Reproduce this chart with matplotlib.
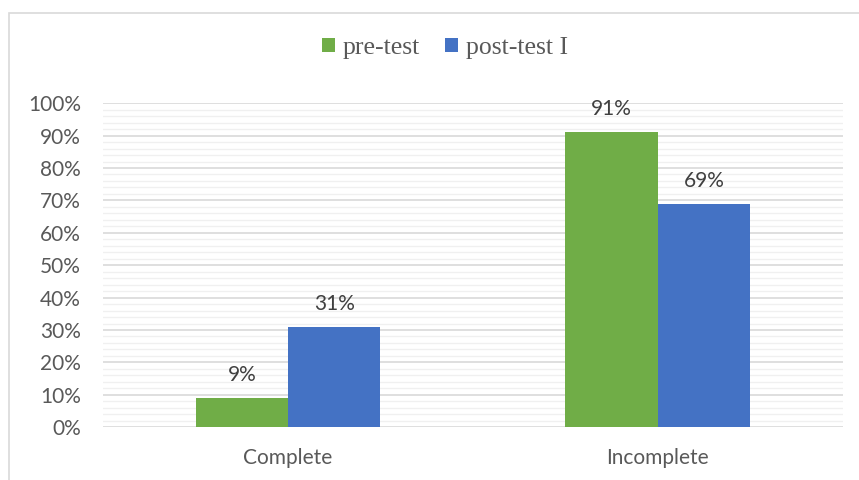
import numpy as np
import matplotlib.pyplot as plt
from matplotlib.patches import Rectangle
from matplotlib.ticker import MultipleLocator, PercentFormatter

categories = ['Complete', 'Incomplete']
series_names = ['pre-test', 'post-test I']
pre_test = [9, 91]
post_test = [31, 69]
colors = ['#70ad47', '#4472c4']

fig = plt.figure(figsize=(8.59, 4.8), dpi=100)
ax = fig.add_axes([0.12, 0.110, 0.861, 0.675])

# outer chart border
fig.patches.append(Rectangle((9 / 859, -0.05), 1.0, 1 - 13 / 480 + 0.05,
                             transform=fig.transFigure, fill=False,
                             edgecolor='#d9d9d9', linewidth=1.2, zorder=0))

x = np.arange(len(categories))
w = 0.25
bars1 = ax.bar(x - w / 2, pre_test, w, color=colors[0], label=series_names[0], zorder=3)
bars2 = ax.bar(x + w / 2, post_test, w, color=colors[1], label=series_names[1], zorder=3)

for bars in (bars1, bars2):
    for b in bars:
        ax.text(b.get_x() + b.get_width() / 2, b.get_height() + 4, f'{b.get_height():.0f}%',
                ha='center', va='bottom', fontsize=15, color='#404040', family='Lato')

ax.set_xlim(-0.5, 1.5)
ax.set_ylim(0, 100)
ax.yaxis.set_major_locator(MultipleLocator(10))
ax.yaxis.set_minor_locator(MultipleLocator(2))
ax.yaxis.set_major_formatter(PercentFormatter(decimals=0))
ax.grid(axis='y', which='major', color='#d9d9d9', linewidth=1.2, zorder=0)
ax.grid(axis='y', which='minor', color='#f0f0f0', linewidth=1.0, zorder=0)
ax.set_xticks(x)
ax.set_xticklabels(categories)
for s in ax.spines.values():
    s.set_visible(False)
ax.tick_params(which='both', length=0)
ax.tick_params(axis='y', pad=16)
ax.tick_params(axis='x', pad=15)
for lbl in ax.get_xticklabels() + ax.get_yticklabels():
    lbl.set_fontfamily('Lato')
    lbl.set_fontsize(15)
    lbl.set_color('#595959')

fig.legend(loc='center', bbox_to_anchor=(0.518, 0.9), ncol=2, frameon=False,
           prop={'family': 'Liberation Serif', 'size': 18.5}, labelcolor='#595959',
           handlelength=0.5, handleheight=0.5, handletextpad=0.3, columnspacing=1.0)

fig.savefig('out.png', dpi=100)
